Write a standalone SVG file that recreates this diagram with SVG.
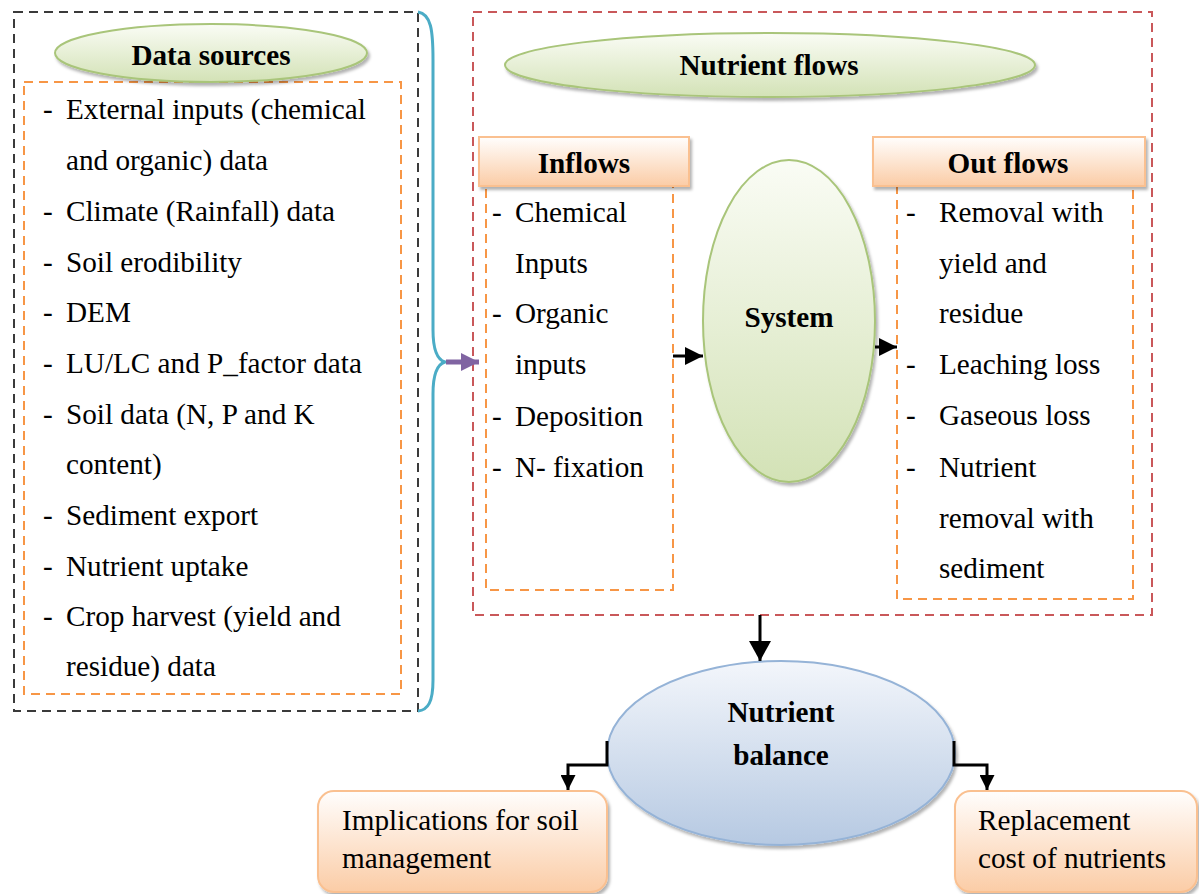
<svg xmlns="http://www.w3.org/2000/svg" width="1199" height="894" viewBox="0 0 1199 894">
<defs>
<style>
text{font-family:'Liberation Serif','Times New Roman',serif;font-size:29.2px;fill:#000}
.b{font-weight:bold}
.c{text-anchor:middle}
.blk{fill:none;stroke:#3a3a3a;stroke-width:2;stroke-dasharray:9,6}
.org{fill:none;stroke:#f79646;stroke-width:2;stroke-dasharray:9,6}
.red{fill:none;stroke:#c9585a;stroke-width:2;stroke-dasharray:9,6}
.con{fill:none;stroke:#000;stroke-width:3}
</style>
<linearGradient id="gGreen" x1="0" y1="0" x2="0" y2="1"><stop offset="0" stop-color="#fafcf5"/><stop offset="1" stop-color="#d3e2b6"/></linearGradient>
<linearGradient id="gOrange" x1="0" y1="0" x2="0" y2="1"><stop offset="0" stop-color="#fffefd"/><stop offset="1" stop-color="#fbcca6"/></linearGradient>
<linearGradient id="gBlue" x1="0" y1="0" x2="0" y2="1"><stop offset="0" stop-color="#f3f6fb"/><stop offset="1" stop-color="#b6c9e2"/></linearGradient>
<filter id="sh" x="-10%" y="-10%" width="130%" height="140%"><feDropShadow dx="2" dy="3" stdDeviation="1.5" flood-color="#000" flood-opacity="0.3"/></filter>
<marker id="ah" markerUnits="userSpaceOnUse" markerWidth="18" markerHeight="18" refX="18" refY="9" orient="auto"><path d="M0,0 L18,9 L0,18 z" fill="#000"/></marker>
<marker id="ahS" markerUnits="userSpaceOnUse" markerWidth="15" markerHeight="15" refX="15" refY="7.5" orient="auto"><path d="M0,0 L15,7.5 L0,15 z" fill="#000"/></marker>
<marker id="ahBig" markerUnits="userSpaceOnUse" markerWidth="20" markerHeight="22" refX="20" refY="11" orient="auto"><path d="M0,0 L20,11 L0,22 z" fill="#000"/></marker>
<marker id="ahP" markerUnits="userSpaceOnUse" markerWidth="18" markerHeight="18" refX="18" refY="9" orient="auto"><path d="M0,0 L18,9 L0,18 z" fill="#8064a2"/></marker>
</defs>
<rect width="1199" height="894" fill="#fff"/>

<g id="data-sources">
<rect class="blk" x="14" y="12" width="404" height="699"/>
<rect class="org" x="24" y="82" width="377" height="612"/>
<ellipse cx="211" cy="53" rx="156" ry="29" fill="url(#gGreen)" stroke="#a9c57a" stroke-width="2" filter="url(#sh)"/>
<text class="b c" x="211" y="65">Data sources</text>
<g>
<text x="43" y="119">-</text><text x="66" y="119">External inputs (chemical</text>
<text x="66" y="170">and organic) data</text>
<text x="43" y="221">-</text><text x="66" y="221">Climate (Rainfall) data</text>
<text x="43" y="272">-</text><text x="66" y="272">Soil erodibility</text>
<text x="43" y="322">-</text><text x="66" y="322">DEM</text>
<text x="43" y="373">-</text><text x="66" y="373">LU/LC and P_factor data</text>
<text x="43" y="424">-</text><text x="66" y="424">Soil data (N, P and K</text>
<text x="66" y="474">content)</text>
<text x="43" y="525">-</text><text x="66" y="525">Sediment export</text>
<text x="43" y="576">-</text><text x="66" y="576">Nutrient uptake</text>
<text x="43" y="626">-</text><text x="66" y="626">Crop harvest (yield and</text>
<text x="66" y="676">residue) data</text>
</g>
</g>

<g id="nutrient-flows">
<rect class="red" x="473" y="12" width="679" height="603"/>
<ellipse cx="770" cy="65" rx="265" ry="32" fill="url(#gGreen)" stroke="#a9c57a" stroke-width="2" filter="url(#sh)"/>
<text class="b c" x="769" y="75">Nutrient flows</text>
</g>

<g id="inflows">
<rect class="org" x="486" y="186" width="187" height="404"/>
<rect x="479" y="137" width="210" height="49" fill="url(#gOrange)" stroke="#fac090" stroke-width="2" filter="url(#sh)"/>
<text class="b c" x="584" y="173">Inflows</text>
<text x="492" y="222">-</text><text x="515" y="222">Chemical</text>
<text x="515" y="273">Inputs</text>
<text x="492" y="323">-</text><text x="515" y="323">Organic</text>
<text x="515" y="374">inputs</text>
<text x="492" y="426">-</text><text x="515" y="426">Deposition</text>
<text x="492" y="477">-</text><text x="515" y="477">N- fixation</text>
</g>

<g id="system">
<ellipse cx="789" cy="321" rx="86" ry="161" fill="url(#gGreen)" stroke="#a9c57a" stroke-width="2" filter="url(#sh)"/>
<text class="b c" x="789" y="327">System</text>
</g>

<g id="outflows">
<rect class="org" x="897" y="186" width="236" height="413"/>
<rect x="873" y="137" width="272" height="49" fill="url(#gOrange)" stroke="#fac090" stroke-width="2" filter="url(#sh)"/>
<text class="b c" x="1008" y="173">Out flows</text>
<text x="906" y="222">-</text><text x="939" y="222">Removal with</text>
<text x="939" y="273">yield and</text>
<text x="939" y="323">residue</text>
<text x="906" y="374">-</text><text x="939" y="374">Leaching loss</text>
<text x="906" y="425">-</text><text x="939" y="425">Gaseous loss</text>
<text x="906" y="477">-</text><text x="939" y="477">Nutrient</text>
<text x="939" y="528">removal with</text>
<text x="939" y="578">sediment</text>
</g>

<g id="nutrient-balance">
<ellipse cx="781" cy="753" rx="174" ry="92" fill="url(#gBlue)" stroke="#95b3d7" stroke-width="2" filter="url(#sh)"/>
<text class="b c" x="781" y="722">Nutrient</text>
<text class="b c" x="781" y="765">balance</text>
</g>

<g id="implications">
<rect x="318" y="791" width="289" height="101" rx="16" fill="url(#gOrange)" stroke="#fac090" stroke-width="2" filter="url(#sh)"/>
<text x="342" y="830">Implications for soil</text>
<text x="342" y="868">management</text>
</g>

<g id="replacement">
<rect x="955" y="791" width="242" height="101" rx="16" fill="url(#gOrange)" stroke="#fac090" stroke-width="2" filter="url(#sh)"/>
<text x="978" y="830">Replacement</text>
<text x="978" y="868">cost of nutrients</text>
</g>

<g id="connectors">
<path d="M418,12 C431,14 433,30 433,60 L433,330 C433,352 438,360 445,362 C438,364 433,372 433,394 L433,680 C433,702 428,710 418,711" fill="none" stroke="#4bacc6" stroke-width="3"/>
<line x1="446" y1="362" x2="479" y2="362" stroke="#8064a2" stroke-width="5" marker-end="url(#ahP)"/>
<line x1="673" y1="356" x2="703" y2="356" class="con" stroke-width="5" marker-end="url(#ah)"/>
<line x1="875" y1="347" x2="897" y2="347" class="con" stroke-width="5" marker-end="url(#ah)"/>
<line x1="760" y1="615" x2="760" y2="661" class="con" stroke-width="5" marker-end="url(#ahBig)"/>
<path d="M607,741 V765 H568 V790" class="con" marker-end="url(#ahS)"/>
<path d="M954,741 V765 H987 V790" class="con" marker-end="url(#ahS)"/>
</g>
</svg>
